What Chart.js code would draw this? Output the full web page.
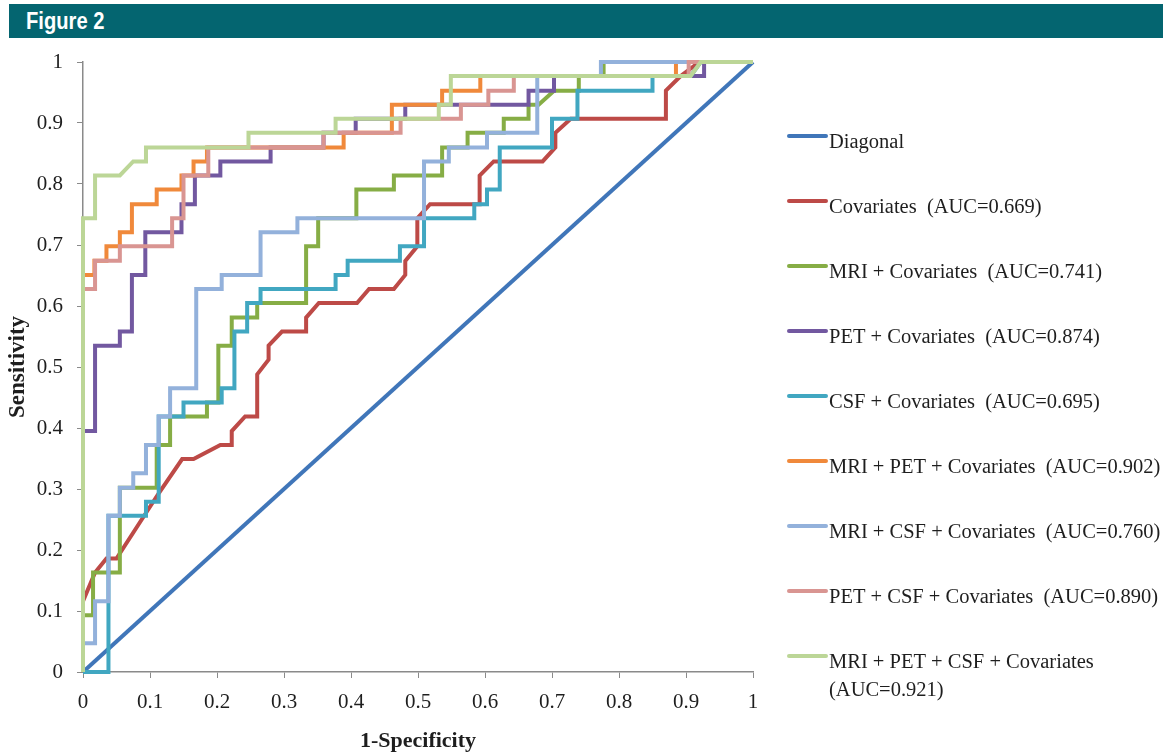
<!DOCTYPE html>
<html>
<head>
<meta charset="utf-8">
<script src="https://cdn.jsdelivr.net/npm/chart.js@4.4.1/dist/chart.umd.min.js"></script>
<style>
  html, body { margin: 0; padding: 0; background: #ffffff; }
  #wrap { position: absolute; left: 0; top: 0; width: 1163px; height: 752px; }
  #header { position: absolute; left: 9px; top: 4px; width: 1154px; height: 34px; background: #046570; z-index: 2; }
  #header span { position: absolute; left: 17px; top: 3px; color: #ffffff; font: bold 24px "Liberation Sans", Arial, sans-serif; display: inline-block; transform: scaleX(0.84); transform-origin: left center; letter-spacing: 0; }
</style>
</head>
<body>
<div id="wrap">
  <div id="header"><span>Figure 2</span></div>
  <canvas id="c"></canvas>
</div>
<script>
// ---- Data (1-Specificity, Sensitivity) ----
const seriesNames = [
  "Diagonal",
  "Covariates  (AUC=0.669)",
  "MRI + Covariates  (AUC=0.741)",
  "PET + Covariates  (AUC=0.874)",
  "CSF + Covariates  (AUC=0.695)",
  "MRI + PET + Covariates  (AUC=0.902)",
  "MRI + CSF + Covariates  (AUC=0.760)",
  "PET + CSF + Covariates  (AUC=0.890)",
  "MRI + PET + CSF + Covariates\n(AUC=0.921)"
];
const seriesColors = ["#4076B9", "#BD4A47", "#86AD45", "#7258A0", "#41A7C1", "#F0893B", "#93B1DB", "#D99592", "#BCD697"];

const tickLabels = ["0", "0.1", "0.2", "0.3", "0.4", "0.5", "0.6", "0.7", "0.8", "0.9", "1"];

const diagonalPts = [[0,0],[1,1]];
const covariatesPts = [[0,0],[0,0.116],[0.018,0.163],[0.035,0.186],[0.05,0.186],[0.113,0.293],[0.148,0.349],[0.165,0.349],[0.205,0.372],[0.222,0.372],[0.222,0.395],[0.242,0.419],[0.26,0.419],[0.26,0.488],[0.277,0.512],[0.277,0.535],[0.297,0.558],[0.333,0.558],[0.333,0.581],[0.352,0.605],[0.409,0.605],[0.427,0.628],[0.464,0.628],[0.481,0.651],[0.481,0.674],[0.499,0.698],[0.499,0.744],[0.518,0.767],[0.592,0.767],[0.592,0.814],[0.613,0.837],[0.686,0.837],[0.705,0.86],[0.705,0.884],[0.728,0.907],[0.87,0.907],[0.87,0.953],[0.892,0.977],[0.92,1],[1,1]];
const mriCovPts = [[0,0],[0,0.093],[0.015,0.093],[0.015,0.163],[0.055,0.163],[0.055,0.302],[0.11,0.302],[0.11,0.372],[0.13,0.372],[0.13,0.419],[0.185,0.419],[0.185,0.442],[0.202,0.442],[0.202,0.535],[0.222,0.535],[0.222,0.581],[0.26,0.581],[0.26,0.605],[0.333,0.605],[0.333,0.698],[0.351,0.698],[0.351,0.744],[0.408,0.744],[0.408,0.791],[0.464,0.791],[0.464,0.814],[0.536,0.814],[0.536,0.86],[0.574,0.86],[0.574,0.884],[0.628,0.884],[0.628,0.907],[0.665,0.907],[0.665,0.93],[0.68,0.93],[0.703,0.953],[0.74,0.953],[0.74,0.977],[0.777,0.977],[0.777,1],[1,1]];
const petCovPts = [[0,0],[0,0.395],[0.018,0.395],[0.018,0.535],[0.055,0.535],[0.055,0.558],[0.073,0.558],[0.073,0.651],[0.093,0.651],[0.093,0.721],[0.147,0.721],[0.147,0.767],[0.167,0.767],[0.167,0.814],[0.205,0.814],[0.205,0.837],[0.28,0.837],[0.28,0.86],[0.359,0.86],[0.359,0.884],[0.407,0.884],[0.407,0.907],[0.481,0.907],[0.481,0.93],[0.665,0.93],[0.665,0.953],[0.703,0.953],[0.703,0.977],[0.927,0.977],[0.927,1],[1,1]];
const csfCovPts = [[0,0],[0.038,0],[0.038,0.256],[0.094,0.256],[0.094,0.279],[0.113,0.279],[0.113,0.419],[0.15,0.419],[0.15,0.442],[0.207,0.442],[0.207,0.465],[0.226,0.465],[0.226,0.558],[0.245,0.558],[0.245,0.605],[0.265,0.605],[0.265,0.628],[0.377,0.628],[0.377,0.651],[0.395,0.651],[0.395,0.674],[0.473,0.674],[0.473,0.698],[0.509,0.698],[0.509,0.744],[0.584,0.744],[0.584,0.767],[0.603,0.767],[0.603,0.791],[0.622,0.791],[0.622,0.86],[0.70,0.86],[0.70,0.907],[0.738,0.907],[0.738,0.953],[0.85,0.953],[0.85,0.977],[0.907,0.977],[0.922,1],[1,1]];
const mriPetCovPts = [[0,0],[0,0.651],[0.017,0.651],[0.017,0.674],[0.035,0.674],[0.035,0.698],[0.055,0.698],[0.055,0.721],[0.073,0.721],[0.073,0.767],[0.11,0.767],[0.11,0.791],[0.147,0.791],[0.147,0.814],[0.165,0.814],[0.165,0.837],[0.185,0.837],[0.185,0.86],[0.389,0.86],[0.389,0.884],[0.461,0.884],[0.461,0.93],[0.536,0.93],[0.536,0.953],[0.593,0.953],[0.593,0.977],[0.885,0.977],[0.885,1],[1,1]];
const mriCsfCovPts = [[0,0],[0,0.047],[0.018,0.047],[0.018,0.116],[0.038,0.116],[0.038,0.256],[0.055,0.256],[0.055,0.302],[0.075,0.302],[0.075,0.326],[0.094,0.326],[0.094,0.372],[0.113,0.372],[0.113,0.419],[0.13,0.419],[0.13,0.465],[0.169,0.465],[0.169,0.628],[0.207,0.628],[0.207,0.651],[0.265,0.651],[0.265,0.721],[0.32,0.721],[0.32,0.744],[0.509,0.744],[0.509,0.837],[0.546,0.837],[0.546,0.86],[0.603,0.86],[0.603,0.884],[0.678,0.884],[0.678,0.977],[0.773,0.977],[0.773,1],[1,1]];
const petCsfCovPts = [[0,0],[0,0.628],[0.018,0.628],[0.018,0.674],[0.055,0.674],[0.055,0.698],[0.133,0.698],[0.133,0.744],[0.15,0.744],[0.15,0.814],[0.187,0.814],[0.187,0.86],[0.359,0.86],[0.359,0.884],[0.474,0.884],[0.474,0.907],[0.564,0.907],[0.564,0.93],[0.605,0.93],[0.605,0.953],[0.643,0.953],[0.643,0.977],[0.904,0.977],[0.904,1],[1,1]];
const allCovPts = [[0,0],[0,0.744],[0.018,0.744],[0.018,0.814],[0.055,0.814],[0.075,0.837],[0.094,0.837],[0.094,0.86],[0.247,0.86],[0.247,0.884],[0.377,0.884],[0.377,0.907],[0.531,0.907],[0.531,0.93],[0.549,0.93],[0.549,0.977],[0.907,0.977],[0.922,1],[1,1]];

const seriesPoints = [diagonalPts, covariatesPts, mriCovPts, petCovPts, csfCovPts, mriPetCovPts, mriCsfCovPts, petCsfCovPts, allCovPts];

// ---- Build datasets ----
const datasets = seriesPoints.map((pts, i) => ({
  label: seriesNames[i],
  data: pts.map(p => ({ x: p[0], y: p[1] })),
  showLine: true,
  borderColor: seriesColors[i],
  backgroundColor: seriesColors[i],
  borderWidth: 4,
  pointRadius: 0,
  pointHoverRadius: 0,
  tension: 0,
  fill: false,
  clip: 6,
  order: seriesPoints.length - i,
  borderJoinStyle: 'miter'
}));

const SERIF = '"Liberation Serif", "Times New Roman", serif';

const sideLegend = {
  id: 'sideLegend',
  afterDraw(chart) {
    const ctx = chart.ctx;
    const area = chart.chartArea;
    const x0 = area.right + 36;
    const x1 = area.right + 73;
    const tx = area.right + 76;
    const top = area.top + 74;
    const gap = 65;
    ctx.save();
    ctx.font = '20.5px ' + SERIF;
    ctx.textAlign = 'left';
    ctx.textBaseline = 'alphabetic';
    chart.data.datasets.forEach((ds, i) => {
      const y = top + i * gap;
      ctx.strokeStyle = ds.borderColor;
      ctx.lineWidth = 4;
      ctx.lineCap = 'round';
      ctx.beginPath();
      ctx.moveTo(x0, y);
      ctx.lineTo(x1, y);
      ctx.stroke();
      ctx.fillStyle = '#1e1e1e';
      String(ds.label).split('\n').forEach((line, j) => {
        ctx.fillText(line, tx, y + 12 + j * 28);
      });
    });
    ctx.restore();
  }
};

const axisGray = '#8a8a8a';

new Chart(document.getElementById('c'), {
  type: 'scatter',
  data: { datasets },
  options: {
    responsive: true,
    maintainAspectRatio: false,
    animation: false,
    events: [],
    layout: { padding: { left: 0, top: 62, right: 410, bottom: 0 } },
    plugins: {
      legend: { display: false },
      tooltip: { enabled: false },
      title: { display: false }
    },
    scales: {
      x: {
        type: 'linear',
        min: 0, max: 1,
        afterFit(scale) { scale.height = 80; },
        afterBuildTicks(scale) { scale.ticks = tickLabels.map((t, i) => ({ value: i / 10 })); },
        ticks: {
          callback: (v) => tickLabels[Math.round(v * 10)],
          color: '#1e1e1e',
          font: { family: SERIF, size: 21 },
          padding: 12,
          maxRotation: 0,
          autoSkip: false
        },
        grid: { drawOnChartArea: false, drawTicks: true, tickLength: 6, color: axisGray, lineWidth: 1 },
        border: { display: true, color: axisGray, width: 1.5 },
        title: {
          display: true,
          text: '1-Specificity',
          color: '#1e1e1e',
          font: { family: SERIF, size: 22, weight: 'bold', lineHeight: 1 },
          padding: { top: 0, bottom: 0 }
        }
      },
      y: {
        type: 'linear',
        min: 0, max: 1,
        afterFit(scale) { scale.width = 83; },
        afterBuildTicks(scale) { scale.ticks = tickLabels.map((t, i) => ({ value: i / 10 })); },
        ticks: {
          callback: (v) => tickLabels[Math.round(v * 10)],
          color: '#1e1e1e',
          font: { family: SERIF, size: 21 },
          padding: 14,
          autoSkip: false
        },
        grid: { drawOnChartArea: false, drawTicks: true, tickLength: 6, color: axisGray, lineWidth: 1 },
        border: { display: true, color: axisGray, width: 1.5 },
        title: {
          display: true,
          text: 'Sensitivity',
          color: '#1e1e1e',
          font: { family: SERIF, size: 23, weight: 'bold', lineHeight: 1.2 },
          padding: { top: 4, bottom: 0 }
        }
      }
    }
  },
  plugins: [sideLegend]
});
</script>
</body>
</html>
